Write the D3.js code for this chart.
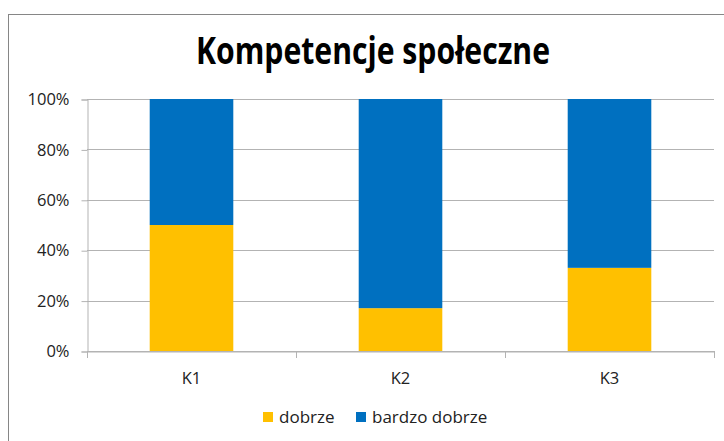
<!DOCTYPE html>
<html>
<head>
<meta charset="utf-8">
<script src="https://cdn.jsdelivr.net/npm/d3@7"></script>
<style>
  body { margin: 0; background: #fff; }
  text { font-family: "Open Sans", "DejaVu Sans", sans-serif; fill: #222; }
</style>
</head>
<body>
<svg id="chart"></svg>
<script>
      var categories = ["K1", "K2", "K3"];
      var dobrze       = [0.50, 0.17, 0.33];
      var bardzoDobrze = [0.50, 0.83, 0.67];
      var seriesNames  = ["dobrze", "bardzo dobrze"];
      var seriesColors = ["#FFC000", "#0070C0"];
      var yTicks = [0, 0.2, 0.4, 0.6, 0.8, 1.0];

      var svgWidth = 724, svgHeight = 441;
      var margin = {top: 99, bottom: 90, left: 87, right: 10};
      var graphWidth  = svgWidth - margin.left - margin.right;
      var graphHeight = svgHeight - margin.top - margin.bottom;

      var svg = d3.select("#chart").attr("width", svgWidth).attr("height", svgHeight);

      // outer frame
      svg.append("rect").attr("x", 8.5).attr("y", 14.5).attr("width", 800).attr("height", 500)
         .style("fill", "none").style("stroke", "#868686").style("stroke-width", 1);

      // title
      svg.append("text").attr("x", 373).attr("y", 64)
         .text("Kompetencje społeczne")
         .attr("textLength", 354).attr("lengthAdjust", "spacingAndGlyphs")
         .style("font-size", "37px").style("font-weight", "bold").style("fill", "#000")
         .style("text-anchor", "middle");

      var xScale = d3.scaleBand().domain(categories).range([margin.left, margin.left + graphWidth]);
      var yScale = d3.scaleLinear().domain([0, 1]).range([margin.top + graphHeight, margin.top]);

      // gridlines
      svg.append("g").selectAll("line").data(yTicks).enter().append("line")
         .attr("x1", margin.left).attr("x2", margin.left + graphWidth)
         .attr("y1", function(d) { return Math.round(yScale(d)) + 0.5; })
         .attr("y2", function(d) { return Math.round(yScale(d)) + 0.5; })
         .style("stroke", "#b3b3b3").style("stroke-width", 1);

      // y axis
      var yAxis = svg.append("g").attr("transform", "translate(" + (margin.left + 0.5) + ",0.5)")
         .call(d3.axisLeft(yScale).tickValues(yTicks).tickFormat(d3.format(".0%")).tickSize(6).tickPadding(12));
      yAxis.select(".domain").style("stroke", "#b3b3b3");
      yAxis.selectAll(".tick line").style("stroke", "#b3b3b3");
      yAxis.selectAll(".tick text").style("font-size", "16.5px").style("fill", "#222")
         .style("font-family", "'Open Sans', sans-serif");

      // x axis
      var xAxis = svg.append("g").attr("transform", "translate(0," + (margin.top + graphHeight + 0.5) + ")")
         .call(d3.axisBottom(xScale).tickSize(0).tickPadding(21));
      xAxis.select(".domain").style("stroke", "#b3b3b3");
      xAxis.selectAll(".tick text").style("font-size", "16.5px").style("fill", "#222")
         .style("font-family", "'Open Sans', sans-serif");
      // category boundary ticks
      var bounds = categories.map(function(c) { return xScale(c); }).concat([margin.left + graphWidth]);
      svg.append("g").selectAll("line").data(bounds).enter().append("line")
         .attr("x1", function(d) { return Math.round(d) + 0.5; })
         .attr("x2", function(d) { return Math.round(d) + 0.5; })
         .attr("y1", margin.top + graphHeight).attr("y2", margin.top + graphHeight + 7)
         .style("stroke", "#b3b3b3");

      // stacked bars
      var barW = xScale.bandwidth() * 0.40;
      var stacks = [dobrze, bardzoDobrze];
      categories.forEach(function(c, i) {
        var base = 0;
        stacks.forEach(function(s, k) {
          var x = xScale(c) + (xScale.bandwidth() - barW) / 2;
          svg.append("rect").attr("x", x).attr("width", barW)
             .attr("y", yScale(base + s[i])).attr("height", yScale(base) - yScale(base + s[i]))
             .style("fill", seriesColors[k]);
          base += s[i];
        });
      });

      // legend
      var legendX = [263, 356];
      seriesNames.forEach(function(n, k) {
        svg.append("rect").attr("x", legendX[k]).attr("y", 412).attr("width", 10).attr("height", 10)
           .style("fill", seriesColors[k]);
        svg.append("text").attr("x", legendX[k] + 16).attr("y", 423).text(n)
           .style("font-size", "17px");
      });
</script>
</body>
</html>
